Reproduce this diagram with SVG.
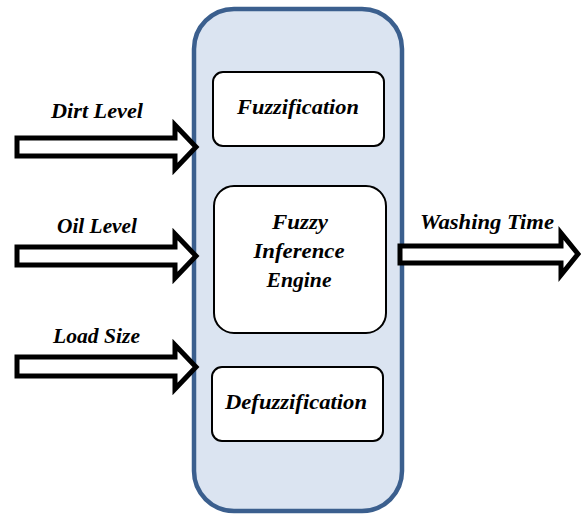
<svg xmlns="http://www.w3.org/2000/svg" width="581" height="515" viewBox="0 0 581 515">
<style>
.lbl{font-family:"Liberation Serif","Times New Roman",serif;font-weight:bold;font-style:italic;font-size:21px;fill:#000}
.inner{fill:#fff;stroke:#000;stroke-width:2}
.arrow{fill:#fff;stroke:#000;stroke-width:5;stroke-linejoin:miter}
</style>
<rect width="581" height="515" fill="#fff"/>
<g id="system">
<rect x="194" y="9" width="208" height="502" rx="40" ry="40" fill="#dbe4f1" stroke="#3b5f8e" stroke-width="4.5"/>
</g>
<g id="fuzzification">
<rect class="inner" x="213" y="72" width="171" height="74" rx="10" ry="10"/>
<text class="lbl" x="298" y="114" text-anchor="middle" textLength="122" lengthAdjust="spacingAndGlyphs">Fuzzification</text>
</g>
<g id="inference">
<rect class="inner" x="214" y="186" width="172" height="147" rx="20" ry="20"/>
<text class="lbl" x="300" y="229" text-anchor="middle" textLength="56" lengthAdjust="spacingAndGlyphs">Fuzzy</text>
<text class="lbl" x="299" y="258" text-anchor="middle" textLength="91" lengthAdjust="spacingAndGlyphs">Inference</text>
<text class="lbl" x="299" y="287" text-anchor="middle" textLength="65" lengthAdjust="spacingAndGlyphs">Engine</text>
</g>
<g id="defuzzification">
<rect class="inner" x="212" y="367" width="171" height="74" rx="10" ry="10"/>
<text class="lbl" x="296" y="409" text-anchor="middle" textLength="142" lengthAdjust="spacingAndGlyphs">Defuzzification</text>
</g>
<g id="connectors">
<polygon class="arrow" points="17,138 175,138 175,125 196,147 175,169 175,156 17,156"/>
<polygon class="arrow" points="17,247 175,247 175,234 196,256 175,278 175,265 17,265"/>
<polygon class="arrow" points="17,357 175,357 175,345 196,367 175,389 175,376 17,376"/>
<polygon class="arrow" points="400,246 561,246 561,233 578,254 561,275 561,263 400,263"/>
</g>
<g id="labels">
<text class="lbl" x="51" y="118" textLength="92" lengthAdjust="spacingAndGlyphs">Dirt Level</text>
<text class="lbl" x="57" y="233" textLength="80" lengthAdjust="spacingAndGlyphs">Oil Level</text>
<text class="lbl" x="53" y="343" textLength="87" lengthAdjust="spacingAndGlyphs">Load Size</text>
<text class="lbl" x="420" y="229" textLength="134" lengthAdjust="spacingAndGlyphs">Washing Time</text>
</g>
</svg>
